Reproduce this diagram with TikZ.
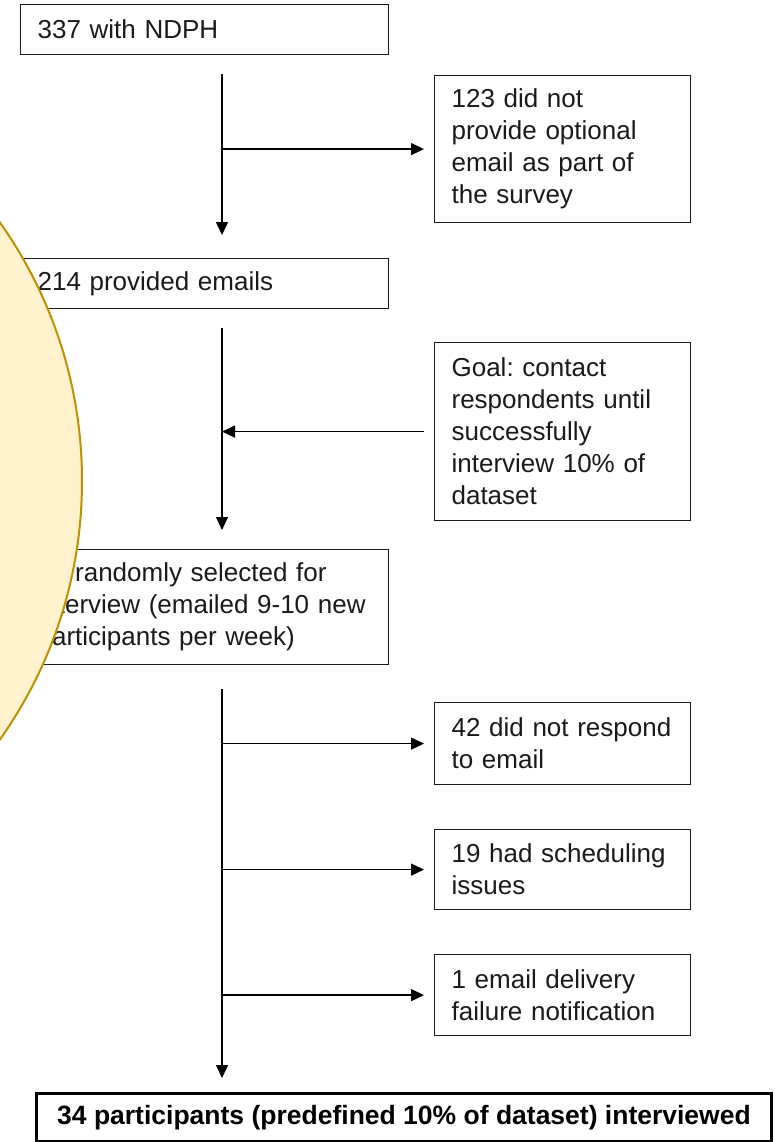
\documentclass[tikz,border=0pt]{standalone}
\usepackage{fontspec}
\setmainfont{Liberation Sans}
\usetikzlibrary{arrows.meta}
\definecolor{circfill}{HTML}{FFF2CC}
\definecolor{circline}{HTML}{BF9000}
\definecolor{ink}{HTML}{1A1A1A}
\frenchspacing
\begin{document}
\begin{tikzpicture}[x=1pt,y=-1pt,
  box/.style={draw=ink, line width=1.2pt, anchor=north west, inner xsep=17pt, inner ysep=0pt,
    align=left, text=ink, font=\fontsize{26}{32}\selectfont},
  wide/.style={box, minimum width=368pt, text width=334pt},
  side/.style={box, minimum width=256pt, text width=222pt},
  final/.style={draw=black, line width=3pt, anchor=north west, inner sep=0pt, align=center,
    minimum width=735pt, minimum height=48pt, font=\fontsize{26.5}{32}\selectfont\bfseries},
  arr/.style={draw=black, line width=1.4pt, -{Triangle[length=13pt,width=12pt]}},
]
\useasboundingbox (0,0) rectangle (774,1142);
\fill[white] (0,0) rectangle (774,1142);
\coordinate (tx) at (222,0);

\node[wide, minimum height=50pt] (b1) at (20,4) {337 with NDPH};
\node[side, minimum height=147pt] (b2) at (434,75) {123 did not\\provide optional\\email as part of\\the survey};
\node[wide, minimum height=50pt] (b3) at (20,258) {214 provided emails};
\node[side, minimum height=178pt] (b4) at (434,342) {Goal: contact\\respondents until\\successfully\\interview 10\% of\\dataset};
\node[wide, minimum height=115pt] (b5) at (20,549) {96 randomly selected for\\interview (emailed 9-10 new\\participants per week)};
\node[side, minimum height=82pt] (b6) at (434,702) {42 did not respond\\to email};
\node[side, minimum height=80pt] (b7) at (434,829) {19 had scheduling\\issues};
\node[side, minimum height=81pt] (b8) at (434,954) {1 email delivery\\failure notification};
\node[final] (b9) at (35,1092) {34 participants (predefined 10\% of dataset) interviewed};

% trunk 1
\draw[arr, shorten <=19pt, shorten >=23pt] (b1.south -| tx) -- (b3.north -| tx);
\draw[arr, shorten >=10pt] (tx |- b2.west) -- (b2.west);
% trunk 2
\draw[arr, shorten <=19pt, shorten >=19pt] (b3.south -| tx) -- (b5.north -| tx);
\draw[arr, shorten <=10pt] (b4.west) -- (tx |- b4.west);
% trunk 3
\draw[arr, shorten <=24pt, shorten >=14pt] (b5.south -| tx) -- (b9.north -| tx);
\draw[arr, shorten >=10pt] (tx |- b6.west) -- (b6.west);
\draw[arr, shorten >=10pt] (tx |- b7.west) -- (b7.west);
\draw[arr, shorten >=10pt] (tx |- b8.west) -- (b8.west);

% overlay circle
\begin{scope}
\clip (0,0) rectangle (774,1142);
\filldraw[fill=circfill, draw=circline, line width=2pt] (-366,481) circle[radius=448pt];
\end{scope}
\end{tikzpicture}
\end{document}
